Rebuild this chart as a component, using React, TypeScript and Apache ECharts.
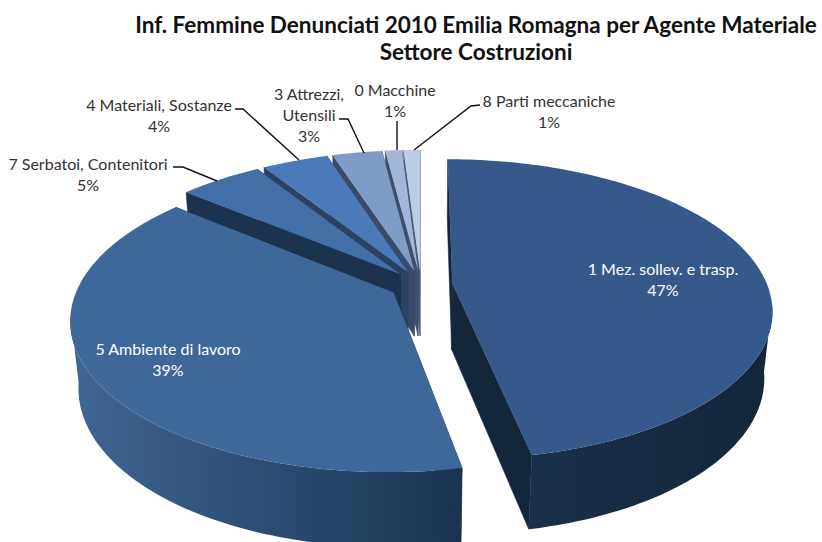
import React, { useEffect, useRef } from "react";
import * as echarts from "echarts";

const titleText = "Inf. Femmine Denunciati 2010 Emilia Romagna per Agente Materiale\nSettore Costruzioni";
const categories = [
  "1 Mez. sollev. e trasp.",
  "5 Ambiente di lavoro",
  "7 Serbatoi, Contenitori",
  "4 Materiali, Sostanze",
  "3 Attrezzi,\nUtensili",
  "0 Macchine",
  "8 Parti meccaniche",
];
const values = [46.9, 39.1, 5, 4, 3, 1, 1];

// styling tables, index-aligned with categories
const topColors = ["#35598a", "#3e6899", "#416fa6", "#4a7ab9", "#7f9cc9", "#a3b6d9", "#bccce3"];
const radialColors = ["#14263a", "#1a3049", "#1c3350", "#2b4263", "#3a4a68", "#3f4f6c", "#4a5a78"];
const rimFrom = ["#14263a", "#3f6695", "#1c3350", "#2b4263", "#3a4a68", "#3f4f6c", "#4a5a78"];
const rimTo = ["#1a3049", "#1b334f", "#1c3350", "#2b4263", "#3a4a68", "#3f4f6c", "#4a5a78"];
const labelLayout: { x: number; y: number; color: string; leader?: number[][] }[] = [
  { x: 663, y: 279, color: "#ffffff" },
  { x: 168, y: 359, color: "#ffffff" },
  { x: 88, y: 174, color: "#333333", leader: [[173, 167], [183, 167], [217, 181]] },
  { x: 159, y: 115, color: "#333333", leader: [[235, 109], [243, 109], [299, 160]] },
  { x: 309, y: 114, color: "#333333", leader: [[339, 119], [348, 119], [364, 153]] },
  { x: 395, y: 100, color: "#333333", leader: [[397, 121], [397, 150]] },
  { x: 549, y: 111, color: "#333333", leader: [[480, 105], [471, 106], [414, 150]] },
];

// projection of the tilted pie
const X0 = 421, Y0 = 285, A = 315, B = 146, K = 0.171, EXPLODE = 0.1, DEPTH = 67.5, WB = 0.023;
const FONT = "Lato, 'Noto Sans', sans-serif";

function project(u: number, v: number, lower: boolean): number[] {
  const w = 1 - K * v + (lower ? WB : 0);
  return [X0 + (A * u) / w, Y0 + (B * v + (lower ? DEPTH : 0)) / w];
}

function renderSlice(params: any, api: any) {
  const i = api.value(0) as number;
  const total = values.reduce((s, x) => s + x, 0);
  const before = values.slice(0, i).reduce((s, x) => s + x, 0);
  const a0 = (before / total) * Math.PI * 2;
  const a1 = ((before + (api.value(1) as number)) / total) * Math.PI * 2;
  const mid = (a0 + a1) / 2;
  const ox = Math.sin(mid) * EXPLODE, oy = -Math.cos(mid) * EXPLODE;
  const steps = Math.max(4, Math.ceil((a1 - a0) / 0.02));
  const arc: number[][] = [];
  for (let s = 0; s <= steps; s++) {
    const t = a0 + ((a1 - a0) * s) / steps;
    arc.push([Math.sin(t) + ox, -Math.cos(t) + oy]);
  }
  const pt = (p: number[], lower: boolean) => project(p[0], p[1], lower);
  const apex = [ox, oy];
  const wall = (p: number[], fill: any) => ({
    type: "polygon",
    shape: { points: [pt(apex, false), pt(p, false), pt(p, true), pt(apex, true)] },
    style: { fill, stroke: fill, lineWidth: 0.5 },
  });
  const children: any[] = [wall(arc[0], radialColors[i]), wall(arc[arc.length - 1], radialColors[i])];
  const front = arc.filter((p) => p[1] - oy >= 0.13);
  if (front.length > 1) {
    const fill = new echarts.graphic.LinearGradient(i === 0 ? 1 : 0, 0, i === 0 ? 0 : 1, 0, [
      { offset: 0, color: rimFrom[i] },
      { offset: 1, color: rimTo[i] },
    ]);
    children.push({
      type: "polygon",
      shape: { points: [...front.map((p) => pt(p, false)), ...front.slice().reverse().map((p) => pt(p, true))] },
      style: { fill },
    });
  }
  children.push({
    type: "polygon",
    shape: { points: [pt(apex, false), ...arc.map((p) => pt(p, false))] },
    style: { fill: topColors[i] },
  });
  return { type: "group", children };
}

export default function App() {
  const ref = useRef<HTMLDivElement>(null);
  useEffect(() => {
    document.body.style.margin = "0";
    const chart = echarts.init(ref.current!, undefined, { renderer: "svg" });
    const graphics: any[] = [];
    labelLayout.forEach((l, i) => {
      if (l.leader) {
        graphics.push({
          type: "polyline",
          z: 20,
          shape: { points: l.leader },
          style: { stroke: "#111111", lineWidth: 1.4, fill: "none" },
        });
      }
      graphics.push({
        type: "text",
        z: 21,
        x: l.x,
        y: l.y,
        style: {
          text: `${categories[i]}\n${Math.round(values[i])}%`,
          fill: l.color,
          font: `16px ${FONT}`,
          align: "center",
          verticalAlign: "middle",
          lineHeight: 21,
        },
      });
    });
    chart.setOption({
      animation: false,
      backgroundColor: "#ffffff",
      title: {
        text: titleText,
        left: 471,
        top: 6,
        textAlign: "center",
        textStyle: { fontFamily: FONT, fontWeight: "bold", fontSize: 22.5, lineHeight: 27, color: "#111111" },
      },
      series: [
        {
          type: "custom",
          coordinateSystem: "none",
          silent: true,
          data: categories.map((_, i) => [i, values[i]]).reverse(),
          renderItem: renderSlice,
        },
      ],
      graphic: graphics,
    });
    return () => chart.dispose();
  }, []);
  return <div ref={ref} style={{ width: 822, height: 542, overflow: "hidden" }} />;
}
